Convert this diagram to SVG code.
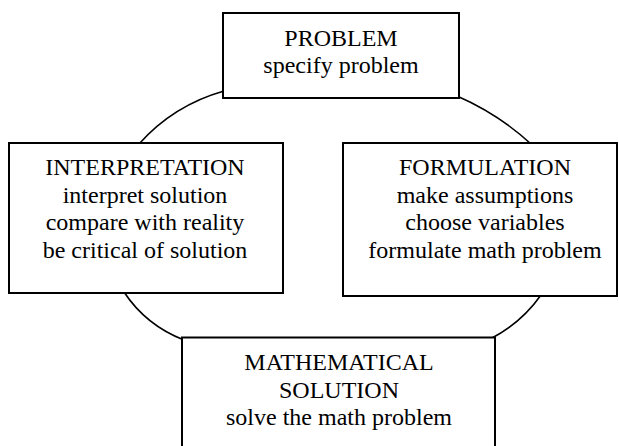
<svg xmlns="http://www.w3.org/2000/svg" width="619" height="446" viewBox="0 0 619 446">
<style>
.box{fill:#fff;stroke:#000;stroke-width:2}
.arc{fill:none;stroke:#000;stroke-width:1.6}
text{font-family:"Liberation Serif","Times New Roman",serif;font-size:24px;fill:#000;text-anchor:middle}
</style>
<rect width="619" height="446" fill="#fff"/>
<g id="connectors">
<path class="arc" d="M224,91 Q173.4,105.3 139,144"/>
<path class="arc" d="M457,96 Q498.4,114 531,144"/>
<path class="arc" d="M124,292 Q146,325.3 184,340"/>
<path class="arc" d="M541,295 Q521.7,322.4 492,338"/>
</g>
<g id="problem">
<rect class="box" x="223" y="13" width="236" height="85"/>
<text x="341" y="46">PROBLEM</text>
<text x="341" y="73">specify problem</text>
</g>
<g id="interpretation">
<rect class="box" x="9" y="143" width="274" height="150"/>
<text x="145" y="175">INTERPRETATION</text>
<text x="145" y="202.6">interpret solution</text>
<text x="145" y="230.2">compare with reality</text>
<text x="145" y="257.8">be critical of solution</text>
</g>
<g id="formulation">
<rect class="box" x="343" y="143" width="274" height="153"/>
<text x="485" y="175">FORMULATION</text>
<text x="485" y="202.6">make assumptions</text>
<text x="485" y="230.2">choose variables</text>
<text x="485" y="257.8">formulate math problem</text>
</g>
<g id="solution">
<rect class="box" x="182" y="337.5" width="313" height="120"/>
<text x="339" y="370">MATHEMATICAL</text>
<text x="339" y="397.5">SOLUTION</text>
<text x="339" y="425">solve the math problem</text>
</g>
</svg>
